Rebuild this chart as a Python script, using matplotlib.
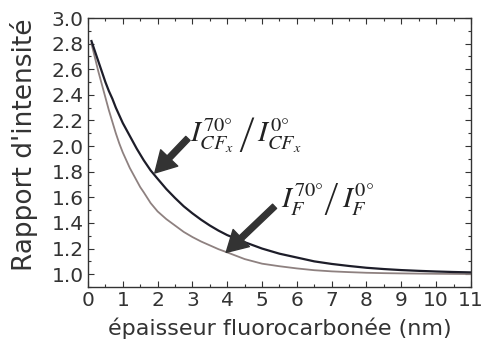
import numpy as np
import matplotlib
matplotlib.use("Agg")
import matplotlib.pyplot as plt
from matplotlib.ticker import MultipleLocator

plt.rcParams['font.family'] = ['DejaVu Sans']
plt.rcParams['mathtext.fontset'] = 'stix'

# thickness (nm) and intensity ratios
x_cfx = [0.1, 0.2, 0.3, 0.4, 0.5, 0.6, 0.7, 0.8, 0.9, 1.0, 1.2, 1.4, 1.6, 1.8,
         2.0, 2.25, 2.5, 2.75, 3.0, 3.25, 3.5, 3.75, 4.0, 4.5, 5.0, 5.5, 6.0,
         6.5, 7.0, 7.5, 8.0, 8.5, 9.0, 9.5, 10.0, 10.5, 11.0]
ratio_cfx = [2.82, 2.74, 2.66, 2.58, 2.50, 2.43, 2.37, 2.30, 2.24, 2.18, 2.08,
             1.98, 1.89, 1.81, 1.745, 1.665, 1.595, 1.53, 1.475, 1.425, 1.38,
             1.34, 1.305, 1.25, 1.20, 1.16, 1.13, 1.10, 1.08, 1.064, 1.05, 1.04,
             1.032, 1.026, 1.021, 1.017, 1.014]

x_f = [0.1, 0.2, 0.3, 0.4, 0.5, 0.6, 0.7, 0.8, 0.9, 1.0, 1.2, 1.4, 1.5, 1.6,
       1.8, 2.0, 2.25, 2.5, 2.75, 3.0, 3.25, 3.5, 3.75, 4.0, 4.5, 5.0, 5.5,
       6.0, 6.5, 7.0, 7.5, 8.0, 8.5, 9.0, 10.0, 11.0]
ratio_f = [2.80, 2.69, 2.58, 2.48, 2.38, 2.28, 2.19, 2.10, 2.02, 1.95, 1.83,
           1.73, 1.68, 1.64, 1.555, 1.49, 1.43, 1.38, 1.33, 1.29, 1.255, 1.225,
           1.195, 1.17, 1.118, 1.082, 1.062, 1.045, 1.031, 1.022, 1.016, 1.011,
           1.008, 1.006, 1.003, 1.001]

xticks = list(range(0, 12))
yticks = [1.0, 1.2, 1.4, 1.6, 1.8, 2.0, 2.2, 2.4, 2.6, 2.8, 3.0]

fig = plt.figure(figsize=(4.85, 3.43), dpi=100)
ax = fig.add_axes([0.1814, 0.1633, 0.971 - 0.1814, 0.9475 - 0.1633])

ax.plot(x_f, ratio_f, color='#8e8180', linewidth=1.3)
ax.plot(x_cfx, ratio_cfx, color='#1d1d29', linewidth=1.6)

ax.set_xlim(0, 11)
ax.set_ylim(0.9, 3.0)
ax.set_xticks(xticks)
ax.set_xticklabels([str(t) for t in xticks])
ax.set_yticks(yticks)
ax.set_yticklabels([f"{t:.1f}" for t in yticks])
ax.xaxis.set_minor_locator(MultipleLocator(0.5))
ax.yaxis.set_minor_locator(MultipleLocator(0.1))

tc = '#333333'
ax.tick_params(which='both', direction='in', top=True, right=True,
               color=tc, labelcolor=tc, width=0.8)
ax.tick_params(which='major', length=4.5, labelsize=14.5, pad=3)
ax.tick_params(which='minor', length=2.2)
for s in ax.spines.values():
    s.set_color(tc)
    s.set_linewidth(1.0)

ax.set_xlabel("épaisseur fluorocarbonée (nm)", fontsize=16, color=tc)
ax.xaxis.set_label_coords(0.5, -0.115)
ax.set_ylabel("Rapport d'intensité", fontsize=19, color=tc)
ax.yaxis.set_label_coords(-0.13, 0.53)

# arrows pointing at the curves
arrow_kw = dict(width=4.2, headwidth=17, headlength=15, shrink=0,
                facecolor='#333333', edgecolor='#333333')
ax.annotate('', xy=(1.92, 1.79), xytext=(2.87, 2.06), arrowprops=arrow_kw)
ax.annotate('', xy=(3.97, 1.17), xytext=(5.36, 1.53), arrowprops=arrow_kw)

# ratio labels, slash sized by \left/
lab = dict(fontsize=21, color='#222222', va='baseline', ha='left')
ax.text(2.92, 2.04, r'$I_{CF_x}^{70°}\,\left/\,I_{CF_x}^{0°}\right.$', **lab)
ax.text(5.55, 1.52, r'$I_{F}^{70°}\left/\,I_{F}^{0°}\right.$', **lab)

fig.savefig("out.png", dpi=100)
